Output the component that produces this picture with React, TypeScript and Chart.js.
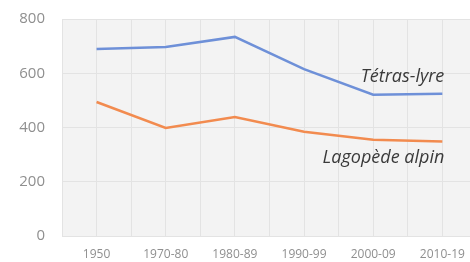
import React, { useEffect, useRef } from "react";
import { Chart, registerables } from "chart.js";

Chart.register(...registerables);

const categories = ["1950", "1970-80", "1980-89", "1990-99", "2000-09", "2010-19"];
const tetrasLyre = [689, 697, 734, 615, 521, 524];
const lagopedeAlpin = [494, 398, 439, 384, 355, 348];
const yTicks = [0, 200, 400, 600, 800];
const seriesNames = ["Tétras-lyre", "Lagopède alpin"];

const bgPlugin = {
  id: "plotBg",
  beforeDraw(chart: any) {
    const { ctx, chartArea } = chart;
    ctx.save();
    ctx.fillStyle = "#f3f3f3";
    ctx.fillRect(chartArea.left, chartArea.top, chartArea.right - chartArea.left, chartArea.bottom - chartArea.top);
    ctx.restore();
  },
};

const labelPlugin = {
  id: "seriesLabels",
  afterDatasetsDraw(chart: any) {
    const { ctx, scales } = chart;
    const xi = categories.length - 1;
    const x = scales.x.getPixelForValue(xi);
    ctx.save();
    ctx.font = "italic 18px 'Open Sans'";
    ctx.fillStyle = "#3a3a3a";
    ctx.textAlign = "right";
    ctx.textBaseline = "alphabetic";
    ctx.fillText(seriesNames[0], x + 2, scales.y.getPixelForValue(tetrasLyre[xi]) - 12);
    ctx.fillText(seriesNames[1], x + 2, scales.y.getPixelForValue(lagopedeAlpin[xi]) + 21);
    ctx.restore();
  },
};

export default function App() {
  const ref = useRef<HTMLCanvasElement>(null);
  useEffect(() => {
    document.body.style.margin = "0";
    document.body.style.overflow = "hidden";
    const chart = new Chart(ref.current!, {
      type: "line",
      data: {
        datasets: [
          {
            label: seriesNames[0],
            data: tetrasLyre.map((v, i) => ({ x: i, y: v })),
            borderColor: "#6e90d8",
            borderWidth: 2.5,
            pointRadius: 0,
            tension: 0,
          },
          {
            label: seriesNames[1],
            data: lagopedeAlpin.map((v, i) => ({ x: i, y: v })),
            borderColor: "#f28b4f",
            borderWidth: 2.5,
            pointRadius: 0,
            tension: 0,
          },
        ],
      },
      options: {
        animation: false,
        responsive: false,
        layout: { padding: { top: 19, left: 0, right: 0, bottom: 0 } },
        plugins: { legend: { display: false }, tooltip: { enabled: false } },
        scales: {
          x: {
            type: "linear",
            min: -0.5,
            max: 5.4,
            afterBuildTicks: (axis: any) => {
              const t = [];
              for (let v = -0.5; v <= 5.4; v += 0.5) t.push({ value: v });
              axis.ticks = t;
            },
            afterFit: (s: any) => {
              s.height = 26;
              s.paddingLeft = 0;
              s.paddingRight = 0;
            },
            ticks: {
              autoSkip: false,
              maxRotation: 0,
              color: "#8f8f8f",
              font: { family: "'Open Sans'", size: 12 },
              padding: 11,
              callback: (v: any) => (Number.isInteger(v) ? categories[v] : ""),
            },
            grid: { color: "#e3e3e3", lineWidth: 1, drawTicks: false },
            border: { display: false },
          },
          y: {
            min: 0,
            max: 800,
            afterBuildTicks: (axis: any) => {
              axis.ticks = yTicks.map((v) => ({ value: v }));
            },
            afterFit: (s: any) => {
              s.width = 62;
              s.paddingTop = 0;
              s.paddingBottom = 0;
            },
            ticks: {
              color: "#8f8f8f",
              font: { family: "'Open Sans'", size: 15 },
              padding: 17,
            },
            grid: { color: "#e3e3e3", lineWidth: 1, drawTicks: false },
            border: { display: false },
          },
        },
      },
      plugins: [bgPlugin, labelPlugin],
    });
    return () => chart.destroy();
  }, []);
  return <canvas ref={ref} width={470} height={262} style={{ display: "block" }} />;
}
